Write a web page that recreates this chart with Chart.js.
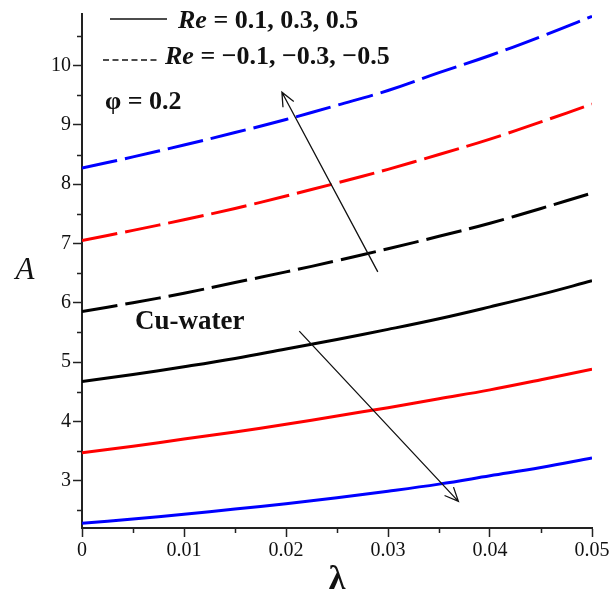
<!DOCTYPE html>
<html>
<head>
<meta charset="utf-8">
<script src="https://cdn.jsdelivr.net/npm/chart.js@4/dist/chart.umd.min.js"></script>
<style>
  html, body { margin: 0; padding: 0; background: #fff; }
  #wrap { width: 613px; height: 607px; position: relative; }
</style>
</head>
<body>
<div id="wrap"><canvas id="chart"></canvas></div>
<script>
/* A versus lambda, Cu-water, phi = 0.2. Values. */

const lambdaValues = [0, 0.005, 0.01, 0.015, 0.02, 0.025, 0.03, 0.035, 0.04, 0.045, 0.05];

// Re = -0.5, -0.3, -0.1 (dashed)
const reNeg05 = [8.27, 8.46, 8.66, 8.87, 9.09, 9.33, 9.58, 9.88, 10.17, 10.49, 10.83];
const reNeg03 = [7.05, 7.22, 7.40, 7.59, 7.80, 8.02, 8.25, 8.50, 8.76, 9.05, 9.35];
const reNeg01 = [5.85, 6.00, 6.16, 6.34, 6.52, 6.71, 6.91, 7.12, 7.34, 7.59, 7.85];
// Re = 0.1, 0.3, 0.5 (solid)
const rePos01 = [4.67, 4.79, 4.92, 5.06, 5.22, 5.38, 5.55, 5.73, 5.93, 6.14, 6.37];
const rePos03 = [3.47, 3.58, 3.70, 3.82, 3.95, 4.09, 4.23, 4.38, 4.53, 4.70, 4.88];
const rePos05 = [2.28, 2.35, 2.43, 2.52, 2.61, 2.71, 2.82, 2.94, 3.08, 3.22, 3.38];

const xTicks = [0, 0.01, 0.02, 0.03, 0.04, 0.05];
const xTickLabels = ["0", "0.01", "0.02", "0.03", "0.04", "0.05"];
const xMinor = [0.005, 0.015, 0.025, 0.035, 0.045];
const yTicks = [3, 4, 5, 6, 7, 8, 9, 10];
const yTickLabels = ["3", "4", "5", "6", "7", "8", "9", "10"];
const yMinor = [2.5, 3.5, 4.5, 5.5, 6.5, 7.5, 8.5, 9.5, 10.5];

const SERIF = '"Liberation Serif", "Times New Roman", serif';
const AXIS = "#222";
const DASH = [36, 8];

function pts(ys) {
  return ys.map((y, i) => ({ x: lambdaValues[i], y }));
}
function series(label, ys, color, dashed) {
  return {
    label,
    data: pts(ys),
    borderColor: color,
    borderWidth: 3,
    borderDash: dashed ? DASH : [],
    borderCapStyle: "butt",
    pointRadius: 0,
    tension: 0.4,
    fill: false,
  };
}

/* arrows in data coordinates: [lambda, A] */
const arrows = [
  { from: [0.0290, 6.52], to: [0.0196, 9.55] },
  { from: [0.0213, 5.52], to: [0.0369, 2.65] },
];

function drawArrow(ctx, x0, y0, x1, y1) {
  const ang = Math.atan2(y1 - y0, x1 - x0);
  const len = 15, spread = 0.42;
  ctx.beginPath();
  ctx.moveTo(x0, y0);
  ctx.lineTo(x1, y1);
  ctx.moveTo(x1 - len * Math.cos(ang - spread), y1 - len * Math.sin(ang - spread));
  ctx.lineTo(x1, y1);
  ctx.lineTo(x1 - len * Math.cos(ang + spread), y1 - len * Math.sin(ang + spread));
  ctx.stroke();
}

function richText(ctx, parts, x, y) {
  // parts: [[text, font], ...] drawn left to right
  let cx = x;
  for (const [t, f] of parts) {
    ctx.font = f;
    ctx.fillText(t, cx, y);
    cx += ctx.measureText(t).width;
  }
}

const decorations = {
  id: "decorations",
  afterDraw(chart) {
    const { ctx, scales: { x, y }, chartArea: a } = chart;
    ctx.save();
    // minor ticks
    ctx.strokeStyle = AXIS;
    ctx.lineWidth = 1.5;
    ctx.beginPath();
    for (const v of yMinor) {
      const py = Math.round(y.getPixelForValue(v)) + 0.5;
      ctx.moveTo(a.left - 5, py);
      ctx.lineTo(a.left, py);
    }
    for (const v of xMinor) {
      const px = Math.round(x.getPixelForValue(v)) + 0.5;
      ctx.moveTo(px, a.bottom);
      ctx.lineTo(px, a.bottom + 5);
    }
    ctx.stroke();

    // arrows
    ctx.strokeStyle = "#111";
    ctx.lineWidth = 1.3;
    for (const ar of arrows) {
      drawArrow(ctx,
        x.getPixelForValue(ar.from[0]), y.getPixelForValue(ar.from[1]),
        x.getPixelForValue(ar.to[0]), y.getPixelForValue(ar.to[1]));
    }

    // legend
    ctx.fillStyle = "#111";
    ctx.textBaseline = "middle";
    ctx.textAlign = "left";
    ctx.strokeStyle = "#111";
    ctx.lineWidth = 1.6;
    ctx.beginPath();
    ctx.moveTo(a.left + 28, 19);
    ctx.lineTo(a.left + 85, 19);
    ctx.stroke();
    ctx.setLineDash([6, 3.5]);
    ctx.beginPath();
    ctx.moveTo(a.left + 21, 60);
    ctx.lineTo(a.left + 76, 60);
    ctx.stroke();
    ctx.setLineDash([]);
    const bi = `italic bold 26px ${SERIF}`, b = `bold 26px ${SERIF}`;
    richText(ctx, [["Re", bi], [" = 0.1, 0.3, 0.5", b]], a.left + 96, 21);
    richText(ctx, [["Re", bi], [" = \u22120.1, \u22120.3, \u22120.5", b]], a.left + 83, 57);
    richText(ctx, [["\u03C6 = 0.2", b]], a.left + 23, 102);
    richText(ctx, [["Cu-water", `bold 27px ${SERIF}`]], a.left + 53, 322);

    // axis titles
    ctx.textAlign = "center";
    ctx.font = `italic 31px ${SERIF}`;
    ctx.fillText("A", 25, 271);
    ctx.font = `bold 34px ${SERIF}`;
    ctx.fillText("\u03BB", (a.left + a.right) / 2, 580);
    ctx.restore();
  },
};

new Chart(document.getElementById("chart"), {
  type: "line",
  data: {
    datasets: [
      series("Re = -0.5", reNeg05, "#0000ff", true),
      series("Re = -0.3", reNeg03, "#ff0000", true),
      series("Re = -0.1", reNeg01, "#000000", true),
      series("Re = 0.1", rePos01, "#000000", false),
      series("Re = 0.3", rePos03, "#ff0000", false),
      series("Re = 0.5", rePos05, "#0000ff", false),
    ],
  },
  options: {
    responsive: true,
    maintainAspectRatio: false,
    animation: false,
    layout: { padding: { left: 0, top: 8, right: 21, bottom: 0 } },
    plugins: { legend: { display: false }, tooltip: { enabled: false } },
    scales: {
      x: {
        type: "linear",
        min: 0,
        max: 0.05,
        afterBuildTicks: (s) => { s.ticks = xTicks.map((v) => ({ value: v })); },
        afterFit: (s) => { s.height = 79; },
        grid: { drawOnChartArea: false, tickLength: 9, tickColor: AXIS, tickWidth: 1.5 },
        border: { color: AXIS, width: 2 },
        ticks: {
          autoSkip: false,
          maxRotation: 0,
          padding: 2,
          color: "#111",
          font: { family: SERIF, size: 20 },
          callback: (v, i) => xTickLabels[i],
        },
      },
      y: {
        type: "linear",
        min: 2.2,
        max: 10.87,
        afterBuildTicks: (s) => { s.ticks = yTicks.map((v) => ({ value: v })); },
        afterFit: (s) => { s.width = 82; },
        grid: { drawOnChartArea: false, tickLength: 9, tickColor: AXIS, tickWidth: 1.5 },
        border: { color: AXIS, width: 2 },
        ticks: {
          autoSkip: false,
          padding: 2,
          color: "#111",
          font: { family: SERIF, size: 20 },
          callback: (v, i) => yTickLabels[i],
        },
      },
    },
  },
  plugins: [decorations],
});
</script>
</body>
</html>
